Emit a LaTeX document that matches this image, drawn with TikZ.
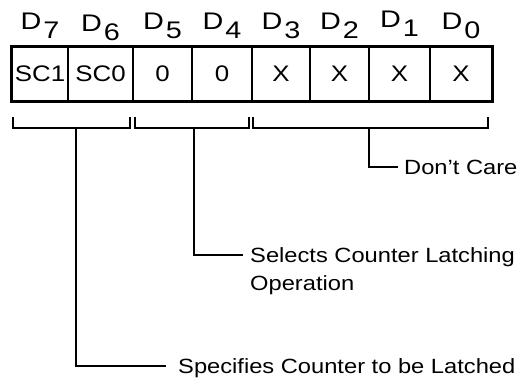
\documentclass[tikz,border=0pt]{standalone}
\usepackage{fontspec}
\setmainfont{Liberation Sans}[FakeStretch=1.15]
\newfontfamily\bitfont{Liberation Sans}[FakeStretch=1.2]
\newcommand{\bitlab}[1]{D\kern2pt\raisebox{-9pt}{#1}}
\begin{document}
\begin{tikzpicture}[x=1pt,y=-1pt,
  cell/.style={draw, line width=1.3pt, minimum height=54pt, inner sep=0pt,
    font=\fontsize{22.5}{24}\selectfont},
  bitname/.style={anchor=base, inner sep=0pt, font=\bitfont\fontsize{24}{26}\selectfont},
  lab/.style={anchor=base west, inner sep=0pt, font=\fontsize{20.6}{24}\selectfont},
  brk/.style={line width=1.8pt},
  stem/.style={line width=1.8pt}]
\useasboundingbox (0,0) rectangle (527,381);
% cells
\node[cell, minimum width=56pt] (c7) at (40,74) {SC1};
\node[cell, minimum width=65pt] (c6) at (100.5,74) {SC0};
\node[cell, minimum width=59pt] (c5) at (162.5,74) {0};
\node[cell, minimum width=60pt] (c4) at (222,74) {0};
\node[cell, minimum width=58pt] (c3) at (281,74) {X};
\node[cell, minimum width=59pt] (c2) at (339.5,74) {X};
\node[cell, minimum width=61pt] (c1) at (399.5,74) {X};
\node[cell, minimum width=62pt] (c0) at (461,74) {X};
\draw[line width=3pt] (c7.north west) rectangle (c0.south east);
% bit names
\node[bitname] (d7) at (40,29) {\bitlab{7}};
\node[bitname] (d6) at (100.5,31) {\bitlab{6}};
\node[bitname] (d5) at (162.5,29) {\bitlab{5}};
\node[bitname] (d4) at (222,29) {\bitlab{4}};
\node[bitname] (d3) at (281,29) {\bitlab{3}};
\node[bitname] (d2) at (339.5,29) {\bitlab{2}};
\node[bitname] (d1) at (399.5,27) {\bitlab{1}};
\node[bitname] (d0) at (461,29) {\bitlab{0}};
% brackets
\draw[brk] (13,117) |- (130,128) -- (130,117);
\draw[brk] (135,117) |- (249,128) -- (249,117);
\draw[brk] (253,117) |- (488,128) -- (488,117);
\coordinate (b1) at (76,128);
\coordinate (b2) at (194,128);
\coordinate (b3) at (369,128);
% labels
\node[lab] (l3) at (404,174) {Don't Care};
\node[lab] (l2) at (250,262) {Selects Counter Latching};
\node[lab] (l2b) at (250,290) {Operation};
\node[lab] (l1) at (178,373) {Specifies Counter to be Latched};
\coordinate (e3) at (398,167);
\coordinate (e2) at (243,255);
\coordinate (e1) at (166,366);
\draw[stem] (b3) |- (e3);
\draw[stem] (b2) |- (e2);
\draw[stem] (b1) |- (e1);
\end{tikzpicture}
\end{document}
